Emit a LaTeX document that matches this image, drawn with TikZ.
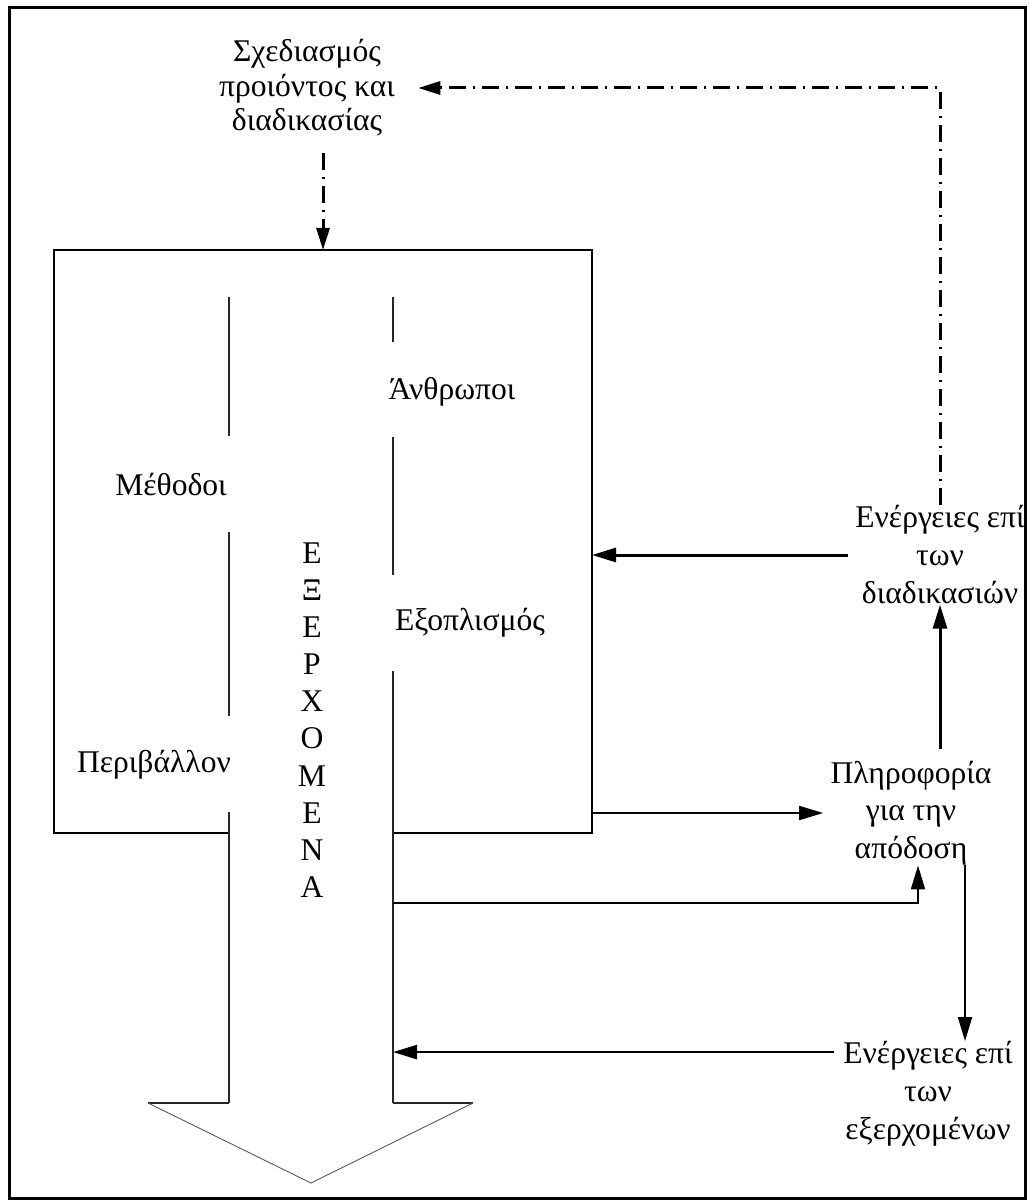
\documentclass[tikz,border=0pt]{standalone}
\usepackage{fontspec}
\setmainfont{Liberation Serif}
\usetikzlibrary{arrows.meta,calc}
\begin{document}
\begin{tikzpicture}[x=0.5pt,y=-0.5pt,
  txt/.style={inner sep=0pt, align=center, font=\fontsize{15.8}{#1}\selectfont},
  txt/.default=19pt,
  frameline/.style={line width=1.5pt},
  boxline/.style={line width=1.4pt, line join=miter},
  shaftline/.style={line width=0.55pt, black!85},
  headline/.style={line width=0.45pt, black!65},
  flow/.style={line width=#1, -{Triangle[length=12pt,width=7pt]}},
  flow/.default=1pt,
  feedback/.style={line width=1.5pt, dash pattern=on 8.5pt off 3.5pt on 1pt off 3.5pt,
    -{Triangle[length=11pt,width=6.5pt]}},
]
\useasboundingbox (0,0) rectangle (1029,1202);

% outer frame
\draw[frameline] (9.5,7.5) rectangle (1025.5,1198.5);

% the production system box, open where the outputs arrow leaves it
\coordinate (boxNW) at (54,250);
\coordinate (boxSE) at (592,833);
\draw[boxline] (229,833) -- (54,833) -- (54,250) -- (592,250) -- (592,833) -- (393,833);

% outputs arrow: shaft with gaps for the side labels, and its head
\coordinate (shaftR) at (393,1103);
\draw[shaftline] (229,297) -- (229,436) (229,532) -- (229,716) (229,812) -- (229,1103);
\draw[shaftline] (393,297) -- (393,342) (393,437) -- (393,575) (393,671) -- (393,1103);
\draw[shaftline] (229,1103) -- (148,1103) (393,1103) -- (473,1103);
\draw[headline] (148,1103) -- (311,1183) -- (473,1103);

% labels
\node[txt=17.25pt, inner xsep=11.5pt, inner ysep=8pt] (design) at (307,88)
  {Σχεδιασμός\\προιόντος και\\διαδικασίας};
\node[txt] (methods) at (171,485) {Μέθοδοι};
\node[txt] (people) at (452,392) {Άνθρωποι};
\node[txt] (equip) at (470,623) {Εξοπλισμός};
\node[txt] (env) at (154,765) {Περιβάλλον};
\node[txt=18.55pt] (outputs) at (312,720) {Ε\\Ξ\\Ε\\Ρ\\Χ\\Ο\\Μ\\Ε\\Ν\\Α};
\node[txt=19pt] (actproc) at (940,555) {Ενέργειες επί\\των\\διαδικασιών};
\node[txt=18.75pt] (info) at (911,813) {Πληροφορία\\για την\\απόδοση};
\node[txt=19pt] (actout) at (928,1094) {Ενέργειες επί\\των\\εξερχομένων};

% feedback to design (dash-dot)
\coordinate (ddtop) at ($(design.south)+(16,0)$);
\draw[feedback] (actproc.north) |- (design.east);
\draw[feedback] (ddtop) -- (ddtop |- boxNW);

% solid flows
\draw[flow=1.5pt] ($(actproc.west)+(-7,0)$) -- (actproc.west -| boxSE);
\draw[flow=1.5pt] ($(info.north -| actproc.south)+(0,-12)$) -- (actproc.south);
\draw[flow=0.9pt] (info.west -| boxSE) -- ($(info.west)+(-7,0)$);
\coordinate (tapA) at (393,903);
\draw[flow=1pt] (tapA) -| ($(info.south)+(7,0)$);
\coordinate (iout) at ($(info.south)+(54,0)$);
\draw[flow=1pt] (iout) -- (iout |- actout.north);
\coordinate (aout) at ($(actout.north west)+(-9,11)$);
\draw[flow=1.2pt] (aout) -- (aout -| shaftR);
\end{tikzpicture}
\end{document}
